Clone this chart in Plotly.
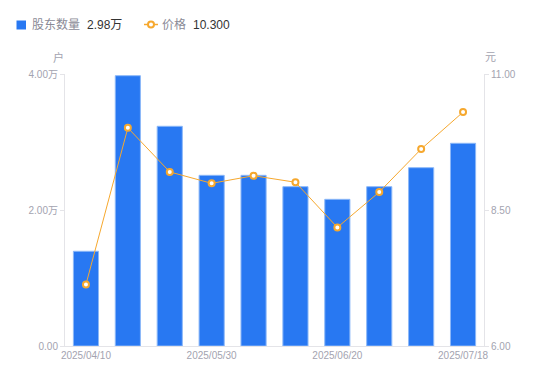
import plotly.graph_objects as go

dates = ["2025/04/10", "2025/04/18", "2025/04/30", "2025/05/30", "2025/06/06",
         "2025/06/13", "2025/06/20", "2025/06/30", "2025/07/10", "2025/07/18"]
holders = [13930, 39750, 32310, 25100, 25100, 23430, 21570, 23430, 26220, 29810]
prices = [7.13, 10.01, 9.20, 8.99, 9.13, 9.01, 8.18, 8.83, 9.62, 10.30]
x_tick_labels = ["2025/04/10", "2025/05/30", "2025/06/20", "2025/07/18"]
left_ticks = [0, 20000, 40000]
left_tick_text = ["0.00", "2.00万", "4.00万"]
right_ticks = [6, 8.5, 11]
right_tick_text = ["6.00", "8.50", "11.00"]

BLUE = "#2878F2"
ORANGE = "#F6A82E"
GRAY = "#a3a3b0"
FONT = "Liberation Sans, Noto Sans CJK SC, sans-serif"

OFF = 8  # page body margin
W, H = 550 - OFF, 381 - OFF
# plot area in window pixels: x 65..484, y 74..346
ML, MT = 65 - OFF, 74 - OFF
MR = W - (484 - OFF)
MB = H - (346 - OFF)
PW = W - ML - MR
PH = H - MT - MB

def px(x):
    return (x - 65) / PW

def py(y):
    return (346 - y) / PH

fig = go.Figure()
fig.add_trace(go.Bar(
    x=dates, y=holders, name="股东数量",
    marker=dict(color=BLUE, line=dict(color="#8cb8f8", width=1)),
    yaxis="y", showlegend=False, hoverinfo="skip",
))
fig.add_trace(go.Scatter(
    x=dates, y=prices, name="价格", mode="lines+markers",
    line=dict(color=ORANGE, width=1),
    marker=dict(symbol="circle", size=6, color="white", line=dict(color=ORANGE, width=2)),
    yaxis="y2", showlegend=False, hoverinfo="skip",
))

axis_line = "#e4e4e8"
fig.update_layout(
    width=W, height=H,
    margin=dict(l=ML, r=MR, t=MT, b=MB, pad=0),
    paper_bgcolor="white", plot_bgcolor="white",
    font=dict(family=FONT, size=10, color=GRAY),
    bargap=0.4,
    hovermode=False,
    xaxis=dict(
        type="category", range=[-0.5, len(dates) - 0.5],
        tickmode="array", tickvals=x_tick_labels, ticktext=x_tick_labels,
        showline=True, linecolor=axis_line, linewidth=1, ticks="", showgrid=False,
        tickfont=dict(size=10, color=GRAY), zeroline=False,
    ),
    yaxis=dict(
        range=[0, 40000], tickmode="array", tickvals=left_ticks, ticktext=left_tick_text,
        showline=True, linecolor=axis_line, linewidth=1, ticks="outside", ticklen=4,
        tickcolor=axis_line, showgrid=False, zeroline=False,
        tickfont=dict(size=10, color=GRAY),
    ),
    yaxis2=dict(
        range=[6, 11], tickmode="array", tickvals=right_ticks, ticktext=right_tick_text,
        overlaying="y", side="right",
        showline=True, linecolor=axis_line, linewidth=1, ticks="outside", ticklen=4,
        tickcolor=axis_line, showgrid=False, zeroline=False,
        tickfont=dict(size=10, color=GRAY),
    ),
)

annotations = [
    dict(text="户", x=px(58), y=py(57), xanchor="center", yanchor="middle",
         font=dict(size=11, color=GRAY)),
    dict(text="元", x=px(490), y=py(57), xanchor="center", yanchor="middle",
         font=dict(size=11, color=GRAY)),
    dict(text="股东数量", x=px(30), y=py(24.5), xanchor="left", yanchor="middle",
         font=dict(size=12, color="#8a8a96")),
    dict(text="2.98万", x=px(85), y=py(24.5), xanchor="left", yanchor="middle",
         font=dict(size=12, color="#333333")),
    dict(text="价格", x=px(160), y=py(24.5), xanchor="left", yanchor="middle",
         font=dict(size=12, color="#8a8a96")),
    dict(text="10.300", x=px(191), y=py(24.5), xanchor="left", yanchor="middle",
         font=dict(size=12, color="#333333")),
]
for a in annotations:
    a.update(xref="paper", yref="paper", showarrow=False)
fig.update_layout(annotations=annotations)

shapes = [
    dict(type="rect", x0=px(16.5), x1=px(26), y0=py(20.5), y1=py(29.5),
         fillcolor=BLUE, line=dict(width=0)),
    dict(type="line", x0=px(144), x1=px(158), y0=py(24.5), y1=py(24.5),
         line=dict(color=ORANGE, width=1.5)),
    dict(type="circle", x0=px(148), x1=px(154), y0=py(21.5), y1=py(27.5),
         fillcolor="white", line=dict(color=ORANGE, width=2)),
]
for s in shapes:
    s.update(xref="paper", yref="paper")
fig.update_layout(shapes=shapes)

fig.write_html("out.html")
